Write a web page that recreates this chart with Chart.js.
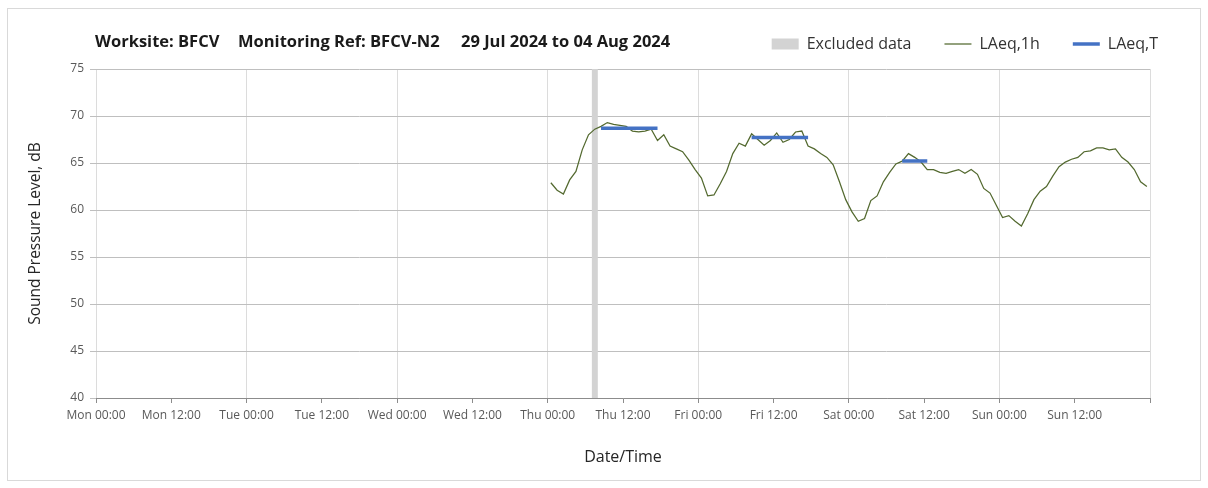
<!DOCTYPE html>
<html>
<head>
<meta charset="utf-8">
<script src="https://cdn.jsdelivr.net/npm/chart.js@4.4.1/dist/chart.umd.min.js"></script>
<style>
  html, body { margin: 0; padding: 0; background: #ffffff; }
  #wrap { width: 1208px; height: 488px; }
</style>
</head>
<body>
<div id="wrap"><canvas id="c" width="1208" height="488"></canvas></div>
<script>
// ---------- data ----------
const titleParts = ['Worksite: BFCV', 'Monitoring Ref: BFCV-N2', '29 Jul 2024 to 04 Aug 2024'];
const seriesNames = ['Excluded data', 'LAeq,1h', 'LAeq,T'];

// x axis: hours since Mon 00:00, ticks every 12 h
const tickLabels = ['Mon 00:00', 'Mon 12:00', 'Tue 00:00', 'Tue 12:00', 'Wed 00:00', 'Wed 12:00',
  'Thu 00:00', 'Thu 12:00', 'Fri 00:00', 'Fri 12:00', 'Sat 00:00', 'Sat 12:00', 'Sun 00:00', 'Sun 12:00'];

// excluded period (hours)
const excludedFrom = [79];
const excludedTo = [80];

// hourly LAeq, first value centred at Thu 00:30 (hour 72.5)
const laeq1hFirstHour = 72.5;
const laeq1h = [
  // Thu
  62.9, 62.1, 61.7, 63.2, 64.1, 66.4, 68.0, 68.6, 68.9, 69.3, 69.1, 69.0,
  68.9, 68.4, 68.3, 68.4, 68.6, 67.4, 68.0, 66.8, 66.5, 66.2, 65.3, 64.3,
  // Fri
  63.4, 61.5, 61.6, 62.8, 64.1, 66.0, 67.1, 66.8, 68.1, 67.5, 66.9, 67.4,
  68.2, 67.2, 67.5, 68.3, 68.4, 66.8, 66.5, 66.0, 65.6, 64.8, 63.0, 61.1,
  // Sat
  59.8, 58.8, 59.1, 61.0, 61.5, 63.0, 64.0, 64.9, 65.2, 66.0, 65.6, 65.1,
  64.3, 64.3, 64.0, 63.9, 64.1, 64.3, 63.9, 64.3, 63.8, 62.3, 61.8, 60.5,
  // Sun
  59.2, 59.4, 58.8, 58.3, 59.6, 61.1, 62.0, 62.5, 63.6, 64.6, 65.1, 65.4,
  65.6, 66.2, 66.3, 66.6, 66.6, 66.4, 66.5, 65.6, 65.1, 64.3, 63.0, 62.5
];

// LAeq,T periods
const periodFrom = [80.5, 104.5, 128.5];
const periodTo = [89.5, 113.5, 132.5];
const periodLevel = [68.7, 67.7, 65.2];

// ---------- build datasets ----------
const excludedData = [];
excludedFrom.forEach((f, i) => {
  excludedData.push({ x: f, y: 75 }, { x: excludedTo[i], y: 75 });
});
const laeqData = laeq1h.map((v, i) => ({ x: laeq1hFirstHour + i, y: v }));
const periodData = [];
periodFrom.forEach((f, i) => {
  periodData.push({ x: f, y: periodLevel[i] }, { x: periodTo[i], y: periodLevel[i] }, { x: periodTo[i] + 0.5, y: null });
});

const FONT = "'Open Sans', 'DejaVu Sans', sans-serif";

const decor = {
  id: 'decor',
  beforeInit(chart) {
    const lg = chart.legend;
    if (lg && !lg._patched) {
      const fit = lg.fit;
      lg.fit = function () { fit.call(this); this.height += 7; };
      lg._patched = true;
    }
  },
  beforeDraw(chart) {
    const c = chart.ctx;
    c.save();
    c.fillStyle = '#ffffff';
    c.fillRect(0, 0, chart.width, chart.height);
    c.strokeStyle = '#d9d9d9';
    c.lineWidth = 1;
    c.strokeRect(7.5, 8.5, 1193, 472);
    c.restore();
  },
  afterDraw(chart) {
    const c = chart.ctx;
    c.save();
    c.font = "bold 16.5px " + FONT;
    c.fillStyle = '#1a1a1a';
    c.textBaseline = 'middle';
    c.textAlign = 'left';
    const xs = [95, 238, 461];
    titleParts.forEach((t, i) => c.fillText(t, xs[i], 42));
    c.restore();
  }
};

new Chart(document.getElementById('c'), {
  type: 'line',
  data: {
    datasets: [
      {
        label: seriesNames[0],
        data: excludedData,
        order: 3,
        fill: 'start',
        backgroundColor: '#d3d3d3',
        borderColor: '#d3d3d3',
        borderWidth: 0,
        pointRadius: 0,
        pointStyle: 'rect'
      },
      {
        label: seriesNames[1],
        data: laeqData,
        order: 2,
        borderColor: '#53692f',
        backgroundColor: '#53692f',
        borderWidth: 1.25,
        pointRadius: 0,
        pointStyle: 'line',
        tension: 0
      },
      {
        label: seriesNames[2],
        data: periodData,
        order: 1,
        borderColor: '#4472c4',
        backgroundColor: '#4472c4',
        borderWidth: 3.5,
        borderCapStyle: 'butt',
        pointRadius: 0,
        pointStyle: 'line',
        spanGaps: false
      }
    ]
  },
  options: {
    responsive: false,
    animation: false,
    devicePixelRatio: 1,
    layout: { padding: { left: 0, right: 17, top: 3, bottom: 0 } },
    plugins: {
      tooltip: { enabled: false },
      title: { display: false },
      legend: {
        display: true,
        position: 'top',
        align: 'end',
        labels: {
          usePointStyle: true,
          pointStyleWidth: 27,
          boxHeight: 11,
          padding: 33,
          color: '#333333',
          font: { family: FONT, size: 16 },
          sort: (a, b) => a.datasetIndex - b.datasetIndex
        }
      }
    },
    scales: {
      x: {
        type: 'linear',
        min: 0,
        max: 168,
        ticks: {
          stepSize: 12,
          autoSkip: false,
          maxRotation: 0,
          minRotation: 0,
          padding: 5,
          color: '#595959',
          font: { family: FONT, size: 12 },
          callback: (v) => tickLabels[v / 12] ?? ''
        },
        grid: {
          color: (ctx) => (ctx.tick && ctx.tick.value % 24 === 0) ? '#dcdcdc' : 'rgba(0,0,0,0)',
          tickColor: '#8c8c8c',
          tickLength: 5,
          lineWidth: 1
        },
        border: { display: true, color: '#8c8c8c', width: 1, z: 1 },
        title: {
          display: true,
          text: 'Date/Time',
          color: '#262626',
          font: { family: FONT, size: 16 },
          padding: { top: 0, bottom: 21 }
        },
        afterFit: (s) => { s.height = 90; }
      },
      y: {
        type: 'linear',
        min: 40,
        max: 75,
        ticks: {
          stepSize: 5,
          padding: 6,
          color: '#595959',
          font: { family: FONT, size: 12 }
        },
        grid: {
          color: '#bfbfbf',
          tickColor: '#bfbfbf',
          tickLength: 6,
          lineWidth: 1
        },
        border: { display: false },
        title: {
          display: true,
          text: 'Sound Pressure Level, dB',
          color: '#262626',
          font: { family: FONT, size: 15.5 },
          padding: { top: 26, bottom: 0 }
        },
        afterFit: (s) => { s.width = 96; }
      },
      yRight: {
        type: 'linear',
        position: 'right',
        min: 40,
        max: 75,
        display: true,
        ticks: { display: false },
        grid: { display: false, drawTicks: false },
        border: { display: false },
        afterFit: (s) => { s.width = 41; }
      }
    }
  },
  plugins: [decor]
});
</script>
</body>
</html>
